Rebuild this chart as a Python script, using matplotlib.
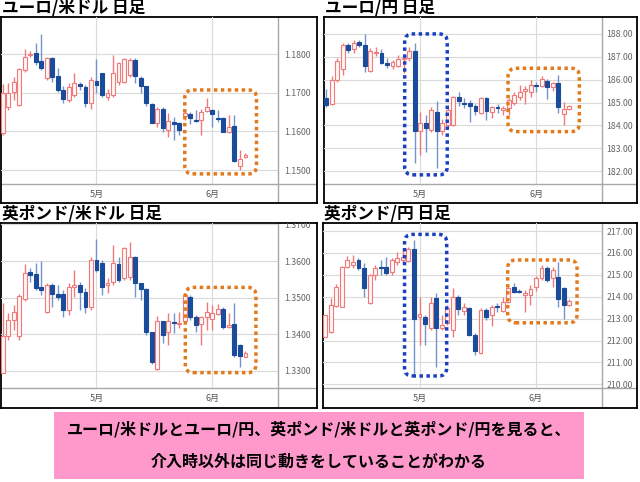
import matplotlib.pyplot as plt
from matplotlib.patches import FancyBboxPatch, Rectangle

plt.rcParams['font.family'] = ['Noto Sans CJK JP', 'DejaVu Sans']

# ---- data (daily candles) ----
eu_usd_open = [1.1595, 1.1664, 1.1703, 1.1668, 1.1759, 1.1797, 1.1803, 1.1783, 1.1737, 1.1789, 1.1743, 1.1707, 1.1681, 1.1694, 1.1722,
               1.1714, 1.1672, 1.1730, 1.1750, 1.1690, 1.1694, 1.1728, 1.1728, 1.1746, 1.1784, 1.1737, 1.1716, 1.1671, 1.1621, 1.1659,
               1.1603, 1.1625, 1.1621, 1.1640, 1.1645, 1.1630, 1.1629, 1.1653, 1.1655, 1.1634, 1.1634, 1.1597, 1.1614, 1.1511, 1.1534]
eu_usd_high = [1.1722, 1.1724, 1.1740, 1.1765, 1.1812, 1.1808, 1.1828, 1.1851, 1.1793, 1.1791, 1.1763, 1.1717, 1.1724, 1.1750, 1.1728,
               1.1720, 1.1741, 1.1786, 1.1752, 1.1709, 1.1797, 1.1780, 1.1789, 1.1789, 1.1789, 1.1743, 1.1717, 1.1674, 1.1664, 1.1662,
               1.1647, 1.1636, 1.1625, 1.1655, 1.1651, 1.1655, 1.1659, 1.1687, 1.1659, 1.1655, 1.1636, 1.1642, 1.1642, 1.1553, 1.1543]
eu_usd_low = [1.1590, 1.1655, 1.1681, 1.1665, 1.1754, 1.1793, 1.1771, 1.1759, 1.1733, 1.1728, 1.1703, 1.1672, 1.1677, 1.1690, 1.1707,
              1.1662, 1.1657, 1.1698, 1.1690, 1.1681, 1.1690, 1.1720, 1.1724, 1.1741, 1.1724, 1.1698, 1.1666, 1.1621, 1.1612, 1.1597,
              1.1586, 1.1578, 1.1590, 1.1629, 1.1619, 1.1625, 1.1590, 1.1651, 1.1612, 1.1625, 1.1597, 1.1595, 1.1521, 1.1500, 1.1530]
eu_usd_close = [1.1700, 1.1698, 1.1728, 1.1760, 1.1791, 1.1800, 1.1780, 1.1763, 1.1789, 1.1741, 1.1707, 1.1683, 1.1714, 1.1724, 1.1716,
                1.1674, 1.1733, 1.1720, 1.1694, 1.1698, 1.1750, 1.1776, 1.1786, 1.1784, 1.1743, 1.1716, 1.1672, 1.1622, 1.1659, 1.1608,
                1.1627, 1.1619, 1.1603, 1.1647, 1.1634, 1.1627, 1.1651, 1.1664, 1.1644, 1.1632, 1.1599, 1.1612, 1.1523, 1.1528, 1.1540]

eu_jpy_open = [185.20, 184.93, 186.00, 186.45, 187.50, 187.33, 187.66, 187.52, 186.38, 187.18, 187.18, 186.75, 186.60, 186.60, 186.89,
               186.94, 187.27, 183.74, 184.10, 183.80, 184.60, 183.74, 184.03, 184.03, 185.26, 185.00, 184.97, 184.86, 184.54, 185.19,
               184.60, 184.80, 184.68, 184.75, 184.97, 185.26, 185.52, 185.48, 185.77, 185.73, 185.96, 185.67, 185.85, 184.50, 184.71]
eu_jpy_high = [185.60, 186.15, 186.95, 187.60, 187.60, 187.74, 187.74, 188.00, 187.37, 187.42, 187.33, 186.94, 186.86, 187.08, 187.08,
               187.45, 187.60, 184.60, 184.46, 184.80, 185.05, 184.30, 184.75, 185.29, 185.48, 185.19, 185.12, 184.94, 185.23, 185.23,
               184.86, 184.94, 184.86, 185.19, 185.44, 185.77, 185.73, 185.99, 185.92, 186.14, 186.02, 185.92, 186.20, 185.04, 184.90]
eu_jpy_low = [184.80, 184.90, 185.90, 186.20, 187.15, 187.15, 187.45, 186.35, 186.35, 187.04, 186.69, 186.50, 186.46, 186.57, 186.28,
              186.80, 182.35, 182.70, 182.86, 183.70, 182.13, 183.60, 183.95, 183.98, 184.83, 184.75, 184.13, 184.46, 184.50, 184.24,
              184.32, 184.56, 184.46, 184.46, 184.90, 185.12, 184.94, 185.26, 185.48, 185.67, 185.15, 185.52, 184.54, 184.03, 184.68]
eu_jpy_close = [184.90, 186.00, 186.80, 187.50, 187.30, 187.62, 187.52, 186.60, 187.27, 187.23, 186.72, 186.65, 186.79, 186.89, 186.94,
                187.27, 183.74, 184.10, 183.88, 184.68, 183.74, 184.10, 184.68, 185.26, 185.05, 184.94, 184.86, 184.61, 185.19, 184.65,
                184.80, 184.75, 184.75, 185.12, 185.34, 185.48, 185.58, 185.77, 185.73, 186.03, 185.67, 185.85, 184.80, 184.70, 184.86]

gb_usd_open = [1.3294, 1.3394, 1.3439, 1.3394, 1.3495, 1.3569, 1.3565, 1.3528, 1.3462, 1.3535, 1.3510, 1.3510, 1.3466, 1.3528, 1.3535,
               1.3516, 1.3475, 1.3603, 1.3595, 1.3535, 1.3544, 1.3592, 1.3553, 1.3557, 1.3610, 1.3539, 1.3523, 1.3405, 1.3305, 1.3435,
               1.3405, 1.3434, 1.3428, 1.3435, 1.3503, 1.3448, 1.3428, 1.3446, 1.3441, 1.3455, 1.3470, 1.3419, 1.3428, 1.3371, 1.3339]
gb_usd_high = [1.3485, 1.3457, 1.3480, 1.3510, 1.3592, 1.3580, 1.3594, 1.3601, 1.3540, 1.3541, 1.3535, 1.3521, 1.3539, 1.3575, 1.3544,
               1.3525, 1.3612, 1.3659, 1.3603, 1.3553, 1.3644, 1.3612, 1.3639, 1.3653, 1.3614, 1.3541, 1.3525, 1.3407, 1.3450, 1.3437,
               1.3457, 1.3457, 1.3462, 1.3512, 1.3507, 1.3453, 1.3450, 1.3489, 1.3480, 1.3483, 1.3474, 1.3457, 1.3485, 1.3374, 1.3353]
gb_usd_low = [1.3294, 1.3385, 1.3412, 1.3385, 1.3491, 1.3544, 1.3521, 1.3507, 1.3459, 1.3475, 1.3494, 1.3448, 1.3453, 1.3503, 1.3466,
              1.3457, 1.3466, 1.3571, 1.3507, 1.3514, 1.3535, 1.3544, 1.3548, 1.3548, 1.3501, 1.3494, 1.3398, 1.3319, 1.3303, 1.3377,
              1.3371, 1.3403, 1.3416, 1.3430, 1.3439, 1.3407, 1.3371, 1.3412, 1.3412, 1.3453, 1.3415, 1.3416, 1.3337, 1.3310, 1.3337]
gb_usd_close = [1.3394, 1.3439, 1.3462, 1.3505, 1.3566, 1.3562, 1.3525, 1.3521, 1.3535, 1.3510, 1.3503, 1.3466, 1.3530, 1.3535, 1.3516,
                1.3475, 1.3603, 1.3575, 1.3530, 1.3539, 1.3594, 1.3548, 1.3635, 1.3612, 1.3541, 1.3523, 1.3405, 1.3325, 1.3435, 1.3398,
                1.3435, 1.3430, 1.3432, 1.3507, 1.3448, 1.3425, 1.3448, 1.3462, 1.3457, 1.3468, 1.3419, 1.3425, 1.3344, 1.3341, 1.3350]

gb_jpy_open = [212.18, 212.40, 213.58, 213.55, 215.37, 215.45, 215.68, 215.30, 213.70, 214.99, 215.34, 215.37, 215.14, 215.60, 215.68,
               215.65, 216.20, 213.06, 213.09, 212.55, 213.93, 212.55, 212.78, 212.48, 213.97, 213.36, 213.47, 212.25, 211.41, 213.39,
               213.16, 213.58, 213.36, 213.77, 214.46, 214.28, 214.08, 214.08, 214.43, 214.84, 215.30, 214.84, 214.88, 214.38, 213.62]
gb_jpy_high = [213.15, 213.93, 214.60, 215.40, 215.86, 215.90, 215.75, 215.55, 215.04, 215.45, 215.68, 215.83, 215.75, 216.06, 216.13,
               216.28, 216.58, 214.00, 213.16, 214.00, 214.18, 213.16, 213.62, 214.38, 214.08, 213.73, 213.55, 212.33, 213.47, 213.47,
               213.62, 213.70, 213.97, 214.53, 214.64, 214.34, 214.30, 214.53, 214.95, 215.45, 215.40, 215.37, 215.60, 214.46, 213.88]
gb_jpy_low = [212.15, 212.36, 213.55, 213.52, 215.30, 215.30, 215.22, 214.00, 213.67, 214.76, 214.99, 214.99, 214.99, 215.45, 215.52,
              215.60, 210.42, 211.80, 211.80, 212.50, 210.80, 212.48, 212.70, 212.18, 213.16, 213.16, 212.20, 211.34, 211.38, 212.94,
              212.66, 213.30, 213.32, 213.70, 214.15, 214.15, 213.32, 213.62, 214.28, 214.76, 214.69, 214.46, 213.55, 212.97, 213.58]
gb_jpy_close = [213.15, 213.62, 214.46, 215.37, 215.70, 215.60, 215.30, 214.38, 214.99, 215.30, 215.30, 215.07, 215.68, 215.75, 215.80,
                216.20, 213.00, 213.20, 212.75, 213.70, 212.55, 212.70, 213.47, 213.97, 213.42, 213.51, 212.25, 211.54, 213.39, 213.09,
                213.55, 213.52, 213.77, 214.38, 214.23, 214.23, 214.18, 214.34, 214.84, 215.30, 214.76, 215.22, 213.88, 213.62, 213.82]

month_pos = [17, 38]
month_labels = ['5月', '6月']

# highlight boxes: (first candle, last candle, top price, bottom price, colour)
ORANGE = '#e27a1c'
BLUE = '#1840c0'
eu_usd_marks = [(33.0, 46.0, 1.1707, 1.1490, ORANGE)]
eu_jpy_marks = [(32.9, 45.8, 186.50, 183.73, ORANGE), (14.2, 21.9, 188.00, 181.84, BLUE)]
gb_usd_marks = [(33.1, 45.9, 1.3528, 1.3295, ORANGE)]
gb_jpy_marks = [(32.9, 45.4, 215.68, 212.81, ORANGE), (14.3, 21.9, 216.85, 210.38, BLUE)]

note_lines = ['ユーロ/米ドルとユーロ/円、英ポンド/米ドルと英ポンド/円を見ると、',
              '介入時以外は同じ動きをしていることがわかる']

W, H = 640, 482
fig = plt.figure(figsize=(W / 100, H / 100), dpi=100, facecolor='white')

UP_EDGE = '#f07a7a'
UP_FACE = '#fff6f6'
DOWN_FACE = '#1b4b9b'
DOWN_WICK = '#7294cc'
GRID = '#dadada'
SEP = '#a8a8a8'


def px_axes(x0, y0, x1, y1):
    return fig.add_axes([x0 / W, 1 - y1 / H, (x1 - x0) / W, (y1 - y0) / H])


def draw_panel(title, box, sep_x, sep_y, o, h, l, c, yticks, ylim, fmt, marks, title_y):
    x0, y0, x1, y1 = box
    outer = px_axes(x0, y0, x1, y1)
    outer.set_xlim(x0, x1)
    outer.set_ylim(y1, y0)
    outer.set_xticks([])
    outer.set_yticks([])
    for s in outer.spines.values():
        s.set_color('black')
        s.set_linewidth(1.3)
    outer.plot([sep_x, sep_x], [y0, y1], color=SEP, lw=1)
    outer.plot([x0, x1], [sep_y, sep_y], color=SEP, lw=1)

    fig.text((x0 + 1) / W, 1 - title_y / H, title, fontsize=12, fontweight='bold', va='center', ha='left')

    ax = px_axes(x0, y0, sep_x, sep_y)
    ax.set_facecolor('none')
    for s in ax.spines.values():
        s.set_visible(False)
    idx = list(range(len(o)))
    up = [cc >= oo for oo, cc in zip(o, c)]
    ax.vlines(idx, l, h, colors=[UP_EDGE if u else DOWN_WICK for u in up], lw=1, zorder=2)
    bottoms = [min(oo, cc) for oo, cc in zip(o, c)]
    heights = [abs(cc - oo) for oo, cc in zip(o, c)]
    ax.bar(idx, heights, bottom=bottoms, width=0.7,
           color=[UP_FACE if u else DOWN_FACE for u in up],
           edgecolor=[UP_EDGE if u else DOWN_FACE for u in up], lw=0.8, zorder=3)

    ax.set_xlim(-0.4, 49.9)
    ax.set_ylim(*ylim)
    ax.yaxis.tick_right()
    ax.set_yticks(yticks, labels=[fmt.format(v) for v in yticks], ha='center')
    ax.set_xticks(month_pos, labels=month_labels)
    # labels sit centred in the price strip right of the separator
    ax.tick_params(axis='y', length=0, labelsize=6.3, labelcolor='#666666', pad=(x1 - sep_x) / 2 * 0.72)
    ax.tick_params(axis='x', length=0, labelsize=6.5, labelcolor='#555555', pad=4)
    ax.grid(True, color=GRID, lw=0.8, zorder=0)
    ax.set_axisbelow(True)
    for t in ax.yaxis.get_major_ticks():
        t.label2.set_clip_box(outer.bbox)

    inv = fig.dpi_scale_trans.inverted()
    for xa, xb, ya, yb, col in marks:
        (ax0, ay0), (ax1, ay1) = inv.transform(ax.transData.transform([(xa, yb), (xb, ya)]))
        fig.add_artist(FancyBboxPatch((ax0, ay0), ax1 - ax0, ay1 - ay0,
                                      boxstyle='round,pad=0,rounding_size=0.08',
                                      transform=fig.dpi_scale_trans, fill=False,
                                      edgecolor=col, lw=2.5, linestyle=(0, (1, 1)),
                                      zorder=5))


draw_panel('ユーロ/米ドル 日足', (0.5, 17, 317, 203), 278, 184,
           eu_usd_open, eu_usd_high, eu_usd_low, eu_usd_close,
           [1.15, 1.16, 1.17, 1.18], (1.14638, 1.18957), '{:.4f}', eu_usd_marks, 8.5)
draw_panel('ユーロ/円 日足', (324, 17, 637, 203), 602, 184,
           eu_jpy_open, eu_jpy_high, eu_jpy_low, eu_jpy_close,
           [182, 183, 184, 185, 186, 187, 188], (181.44, 188.74), '{:.2f}', eu_jpy_marks, 8.5)
draw_panel('英ポンド/米ドル 日足', (0.5, 223, 317, 408), 278, 388,
           gb_usd_open, gb_usd_high, gb_usd_low, gb_usd_close,
           [1.33, 1.34, 1.35, 1.36, 1.37], (1.3253, 1.3704), '{:.4f}', gb_usd_marks, 214.5)
draw_panel('英ポンド/円 日足', (323, 223, 637, 408), 602, 388,
           gb_jpy_open, gb_jpy_high, gb_jpy_low, gb_jpy_close,
           [210, 211, 212, 213, 214, 215, 216, 217], (209.83, 217.37), '{:.2f}', gb_jpy_marks, 214.5)

# pink note box
fig.add_artist(Rectangle((54 / W, 1 - 479 / H), (584 - 54) / W, (479 - 412) / H,
                         transform=fig.transFigure, facecolor='#ff99cc', edgecolor='none'))
fig.text(319 / W, 1 - 429 / H, note_lines[0], fontsize=11.5, fontweight='bold', ha='center', va='center')
fig.text(319 / W, 1 - 462 / H, note_lines[1], fontsize=11.5, fontweight='bold', ha='center', va='center')

fig.savefig('out.png', dpi=100, facecolor='white')
